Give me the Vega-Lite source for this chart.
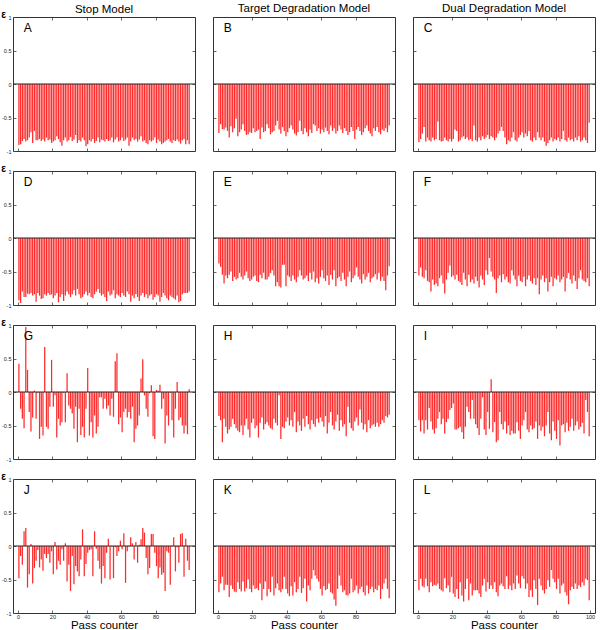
{
"$schema": "https://vega.github.io/schema/vega-lite/v6.json",
"background": "white",
"padding": {"left": 0, "top": 2, "right": 0, "bottom": 0},
"datasets": {
"A": [{"x":0,"v":-0.91},{"x":1,"v":-0.9},{"x":2,"v":-0.85},{"x":3,"v":-0.82},{"x":4,"v":-0.86},{"x":5,"v":-0.84},{"x":6,"v":-0.8},{"x":7,"v":-0.72},{"x":8,"v":-0.88},{"x":9,"v":-0.7},
{"x":10,"v":-0.84},{"x":11,"v":-0.84},{"x":12,"v":-0.82},{"x":13,"v":-0.85},{"x":14,"v":-0.83},{"x":15,"v":-0.86},{"x":16,"v":-0.8},{"x":17,"v":-0.84},{"x":18,"v":-0.83},{"x":19,"v":-0.88},
{"x":20,"v":-0.86},{"x":21,"v":-0.84},{"x":22,"v":-0.78},{"x":23,"v":-0.82},{"x":24,"v":-0.87},{"x":25,"v":-0.92},{"x":26,"v":-0.84},{"x":27,"v":-0.8},{"x":28,"v":-0.86},{"x":29,"v":-0.84},
{"x":30,"v":-0.79},{"x":31,"v":-0.85},{"x":32,"v":-0.83},{"x":33,"v":-0.76},{"x":34,"v":-0.88},{"x":35,"v":-0.84},{"x":36,"v":-0.86},{"x":37,"v":-0.8},{"x":38,"v":-0.84},{"x":39,"v":-0.93},
{"x":40,"v":-0.9},{"x":41,"v":-0.84},{"x":42,"v":-0.86},{"x":43,"v":-0.82},{"x":44,"v":-0.88},{"x":45,"v":-0.85},{"x":46,"v":-0.8},{"x":47,"v":-0.87},{"x":48,"v":-0.83},{"x":49,"v":-0.84},
{"x":50,"v":-0.86},{"x":51,"v":-0.82},{"x":52,"v":-0.85},{"x":53,"v":-0.84},{"x":54,"v":-0.8},{"x":55,"v":-0.87},{"x":56,"v":-0.83},{"x":57,"v":-0.8},{"x":58,"v":-0.86},{"x":59,"v":-0.84},
{"x":60,"v":-0.8},{"x":61,"v":-0.85},{"x":62,"v":-0.83},{"x":63,"v":-0.8},{"x":64,"v":-0.92},{"x":65,"v":-0.86},{"x":66,"v":-0.8},{"x":67,"v":-0.84},{"x":68,"v":-0.82},{"x":69,"v":-0.86},
{"x":70,"v":-0.83},{"x":71,"v":-0.78},{"x":72,"v":-0.86},{"x":73,"v":-0.84},{"x":74,"v":-0.88},{"x":75,"v":-0.9},{"x":76,"v":-0.84},{"x":77,"v":-0.86},{"x":78,"v":-0.84},{"x":79,"v":-0.8},
{"x":80,"v":-0.88},{"x":81,"v":-0.83},{"x":82,"v":-0.86},{"x":83,"v":-0.9},{"x":84,"v":-0.88},{"x":85,"v":-0.86},{"x":86,"v":-0.84},{"x":87,"v":-0.82},{"x":88,"v":-0.86},{"x":89,"v":-0.88},
{"x":90,"v":-0.84},{"x":91,"v":-0.85},{"x":92,"v":-0.83},{"x":93,"v":-0.86},{"x":94,"v":-0.89},{"x":95,"v":-0.84},{"x":96,"v":-0.82},{"x":97,"v":-0.9},{"x":98,"v":-0.84},{"x":99,"v":-0.9}],
"B": [{"x":0,"v":-0.73},{"x":1,"v":-0.6},{"x":2,"v":-0.67},{"x":3,"v":-0.68},{"x":4,"v":-0.65},{"x":5,"v":-0.7},{"x":6,"v":-0.8},{"x":7,"v":-0.63},{"x":8,"v":-0.72},{"x":9,"v":-0.66},
{"x":10,"v":-0.52},{"x":11,"v":-0.78},{"x":12,"v":-0.72},{"x":13,"v":-0.68},{"x":14,"v":-0.6},{"x":15,"v":-0.7},{"x":16,"v":-0.76},{"x":17,"v":-0.75},{"x":18,"v":-0.72},{"x":19,"v":-0.73},
{"x":20,"v":-0.66},{"x":21,"v":-0.72},{"x":22,"v":-0.7},{"x":23,"v":-0.68},{"x":24,"v":-0.82},{"x":25,"v":-0.65},{"x":26,"v":-0.72},{"x":27,"v":-0.7},{"x":28,"v":-0.6},{"x":29,"v":-0.66},
{"x":30,"v":-0.75},{"x":31,"v":-0.72},{"x":32,"v":-0.7},{"x":33,"v":-0.62},{"x":34,"v":-0.55},{"x":35,"v":-0.68},{"x":36,"v":-0.74},{"x":37,"v":-0.64},{"x":38,"v":-0.7},{"x":39,"v":-0.78},
{"x":40,"v":-0.72},{"x":41,"v":-0.66},{"x":42,"v":-0.62},{"x":43,"v":-0.68},{"x":44,"v":-0.74},{"x":45,"v":-0.77},{"x":46,"v":-0.72},{"x":47,"v":-0.55},{"x":48,"v":-0.7},{"x":49,"v":-0.75},
{"x":50,"v":-0.66},{"x":51,"v":-0.72},{"x":52,"v":-0.78},{"x":53,"v":-0.68},{"x":54,"v":-0.73},{"x":55,"v":-0.6},{"x":56,"v":-0.62},{"x":57,"v":-0.7},{"x":58,"v":-0.66},{"x":59,"v":-0.74},
{"x":60,"v":-0.68},{"x":61,"v":-0.72},{"x":62,"v":-0.65},{"x":63,"v":-0.7},{"x":64,"v":-0.75},{"x":65,"v":-0.62},{"x":66,"v":-0.7},{"x":67,"v":-0.66},{"x":68,"v":-0.74},{"x":69,"v":-0.7},
{"x":70,"v":-0.62},{"x":71,"v":-0.68},{"x":72,"v":-0.73},{"x":73,"v":-0.66},{"x":74,"v":-0.7},{"x":75,"v":-0.76},{"x":76,"v":-0.72},{"x":77,"v":-0.64},{"x":78,"v":-0.7},{"x":79,"v":-0.82},
{"x":80,"v":-0.68},{"x":81,"v":-0.64},{"x":82,"v":-0.7},{"x":83,"v":-0.76},{"x":84,"v":-0.72},{"x":85,"v":-0.66},{"x":86,"v":-0.62},{"x":87,"v":-0.7},{"x":88,"v":-0.74},{"x":89,"v":-0.78},
{"x":90,"v":-0.66},{"x":91,"v":-0.7},{"x":92,"v":-0.64},{"x":93,"v":-0.72},{"x":94,"v":-0.75},{"x":95,"v":-0.68},{"x":96,"v":-0.7},{"x":97,"v":-0.66},{"x":98,"v":-0.72},{"x":99,"v":-0.62}],
"C": [{"x":0,"v":-0.87},{"x":1,"v":-0.82},{"x":2,"v":-0.74},{"x":3,"v":-0.64},{"x":4,"v":-0.86},{"x":5,"v":-0.8},{"x":6,"v":-0.84},{"x":7,"v":-0.86},{"x":8,"v":-0.8},{"x":9,"v":-0.84},
{"x":10,"v":-0.82},{"x":11,"v":-0.56},{"x":12,"v":-0.84},{"x":13,"v":-0.86},{"x":14,"v":-0.85},{"x":15,"v":-0.8},{"x":16,"v":-0.84},{"x":17,"v":-0.86},{"x":18,"v":-0.82},{"x":19,"v":-0.86},
{"x":20,"v":-0.82},{"x":21,"v":-0.68},{"x":22,"v":-0.7},{"x":23,"v":-0.86},{"x":24,"v":-0.84},{"x":25,"v":-0.8},{"x":26,"v":-0.78},{"x":27,"v":-0.82},{"x":28,"v":-0.8},{"x":29,"v":-0.84},
{"x":30,"v":-0.82},{"x":31,"v":-0.85},{"x":32,"v":-0.62},{"x":33,"v":-0.84},{"x":34,"v":-0.86},{"x":35,"v":-0.8},{"x":36,"v":-0.84},{"x":37,"v":-0.78},{"x":38,"v":-0.82},{"x":39,"v":-0.8},
{"x":40,"v":-0.76},{"x":41,"v":-0.82},{"x":42,"v":-0.78},{"x":43,"v":-0.8},{"x":44,"v":-0.84},{"x":45,"v":-0.8},{"x":46,"v":-0.74},{"x":47,"v":-0.7},{"x":48,"v":-0.64},{"x":49,"v":-0.7},
{"x":50,"v":-0.8},{"x":51,"v":-0.9},{"x":52,"v":-0.84},{"x":53,"v":-0.86},{"x":54,"v":-0.8},{"x":55,"v":-0.72},{"x":56,"v":-0.84},{"x":57,"v":-0.86},{"x":58,"v":-0.8},{"x":59,"v":-0.76},
{"x":60,"v":-0.72},{"x":61,"v":-0.8},{"x":62,"v":-0.74},{"x":63,"v":-0.78},{"x":64,"v":-0.7},{"x":65,"v":-0.84},{"x":66,"v":-0.86},{"x":67,"v":-0.8},{"x":68,"v":-0.84},{"x":69,"v":-0.72},
{"x":70,"v":-0.8},{"x":71,"v":-0.84},{"x":72,"v":-0.8},{"x":73,"v":-0.86},{"x":74,"v":-0.92},{"x":75,"v":-0.88},{"x":76,"v":-0.84},{"x":77,"v":-0.8},{"x":78,"v":-0.86},{"x":79,"v":-0.82},
{"x":80,"v":-0.84},{"x":81,"v":-0.8},{"x":82,"v":-0.86},{"x":83,"v":-0.82},{"x":84,"v":-0.7},{"x":85,"v":-0.84},{"x":86,"v":-0.86},{"x":87,"v":-0.8},{"x":88,"v":-0.84},{"x":89,"v":-0.82},
{"x":90,"v":-0.86},{"x":91,"v":-0.8},{"x":92,"v":-0.84},{"x":93,"v":-0.78},{"x":94,"v":-0.86},{"x":95,"v":-0.84},{"x":96,"v":-0.8},{"x":97,"v":-0.84},{"x":98,"v":-0.88},{"x":99,"v":-0.58}],
"D": [{"x":0,"v":-0.93},{"x":1,"v":-0.97},{"x":2,"v":-0.8},{"x":3,"v":-0.88},{"x":4,"v":-0.88},{"x":5,"v":-0.83},{"x":6,"v":-0.84},{"x":7,"v":-0.82},{"x":8,"v":-0.86},{"x":9,"v":-0.84},
{"x":10,"v":-0.95},{"x":11,"v":-0.82},{"x":12,"v":-0.86},{"x":13,"v":-0.91},{"x":14,"v":-0.9},{"x":15,"v":-0.84},{"x":16,"v":-0.86},{"x":17,"v":-0.82},{"x":18,"v":-0.85},{"x":19,"v":-0.84},
{"x":20,"v":-0.9},{"x":21,"v":-0.86},{"x":22,"v":-0.82},{"x":23,"v":-0.96},{"x":24,"v":-0.88},{"x":25,"v":-0.84},{"x":26,"v":-0.94},{"x":27,"v":-0.86},{"x":28,"v":-0.8},{"x":29,"v":-0.84},
{"x":30,"v":-0.88},{"x":31,"v":-0.84},{"x":32,"v":-0.78},{"x":33,"v":-0.86},{"x":34,"v":-0.76},{"x":35,"v":-0.84},{"x":36,"v":-0.9},{"x":37,"v":-0.88},{"x":38,"v":-0.84},{"x":39,"v":-0.8},
{"x":40,"v":-0.86},{"x":41,"v":-0.82},{"x":42,"v":-0.88},{"x":43,"v":-0.9},{"x":44,"v":-0.84},{"x":45,"v":-0.8},{"x":46,"v":-0.76},{"x":47,"v":-0.82},{"x":48,"v":-0.86},{"x":49,"v":-0.84},
{"x":50,"v":-0.88},{"x":51,"v":-0.94},{"x":52,"v":-0.8},{"x":53,"v":-0.86},{"x":54,"v":-0.84},{"x":55,"v":-0.78},{"x":56,"v":-0.9},{"x":57,"v":-0.84},{"x":58,"v":-0.86},{"x":59,"v":-0.88},
{"x":60,"v":-0.82},{"x":61,"v":-0.86},{"x":62,"v":-0.88},{"x":63,"v":-0.8},{"x":64,"v":-0.84},{"x":65,"v":-0.95},{"x":66,"v":-0.86},{"x":67,"v":-0.9},{"x":68,"v":-0.84},{"x":69,"v":-0.88},
{"x":70,"v":-0.94},{"x":71,"v":-0.86},{"x":72,"v":-0.82},{"x":73,"v":-0.88},{"x":74,"v":-0.84},{"x":75,"v":-0.9},{"x":76,"v":-0.86},{"x":77,"v":-0.84},{"x":78,"v":-0.92},{"x":79,"v":-0.88},
{"x":80,"v":-0.84},{"x":81,"v":-0.86},{"x":82,"v":-0.95},{"x":83,"v":-0.88},{"x":84,"v":-0.82},{"x":85,"v":-0.86},{"x":86,"v":-0.9},{"x":87,"v":-0.93},{"x":88,"v":-0.86},{"x":89,"v":-0.88},
{"x":90,"v":-0.9},{"x":91,"v":-0.92},{"x":92,"v":-0.86},{"x":93,"v":-0.96},{"x":94,"v":-0.94},{"x":95,"v":-0.84},{"x":96,"v":-0.82},{"x":97,"v":-0.82},{"x":98,"v":-0.82},{"x":99,"v":-0.8}],
"E": [{"x":0,"v":-0.38},{"x":1,"v":-0.43},{"x":2,"v":-0.55},{"x":3,"v":-0.68},{"x":4,"v":-0.56},{"x":5,"v":-0.6},{"x":6,"v":-0.55},{"x":7,"v":-0.5},{"x":8,"v":-0.64},{"x":9,"v":-0.58},
{"x":10,"v":-0.62},{"x":11,"v":-0.6},{"x":12,"v":-0.52},{"x":13,"v":-0.58},{"x":14,"v":-0.62},{"x":15,"v":-0.56},{"x":16,"v":-0.5},{"x":17,"v":-0.6},{"x":18,"v":-0.64},{"x":19,"v":-0.62},
{"x":20,"v":-0.58},{"x":21,"v":-0.56},{"x":22,"v":-0.64},{"x":23,"v":-0.66},{"x":24,"v":-0.55},{"x":25,"v":-0.6},{"x":26,"v":-0.52},{"x":27,"v":-0.62},{"x":28,"v":-0.62},{"x":29,"v":-0.58},
{"x":30,"v":-0.52},{"x":31,"v":-0.48},{"x":32,"v":-0.56},{"x":33,"v":-0.72},{"x":34,"v":-0.66},{"x":35,"v":-0.72},{"x":36,"v":-0.74},{"x":37,"v":-0.4},{"x":38,"v":-0.4},{"x":39,"v":-0.72},
{"x":40,"v":-0.56},{"x":41,"v":-0.58},{"x":42,"v":-0.64},{"x":43,"v":-0.56},{"x":44,"v":-0.62},{"x":45,"v":-0.66},{"x":46,"v":-0.58},{"x":47,"v":-0.48},{"x":48,"v":-0.56},{"x":49,"v":-0.62},
{"x":50,"v":-0.6},{"x":51,"v":-0.56},{"x":52,"v":-0.64},{"x":53,"v":-0.52},{"x":54,"v":-0.62},{"x":55,"v":-0.5},{"x":56,"v":-0.66},{"x":57,"v":-0.6},{"x":58,"v":-0.68},{"x":59,"v":-0.58},
{"x":60,"v":-0.48},{"x":61,"v":-0.6},{"x":62,"v":-0.64},{"x":63,"v":-0.56},{"x":64,"v":-0.7},{"x":65,"v":-0.55},{"x":66,"v":-0.62},{"x":67,"v":-0.48},{"x":68,"v":-0.72},{"x":69,"v":-0.6},
{"x":70,"v":-0.58},{"x":71,"v":-0.64},{"x":72,"v":-0.52},{"x":73,"v":-0.62},{"x":74,"v":-0.72},{"x":75,"v":-0.58},{"x":76,"v":-0.5},{"x":77,"v":-0.66},{"x":78,"v":-0.6},{"x":79,"v":-0.56},
{"x":80,"v":-0.44},{"x":81,"v":-0.58},{"x":82,"v":-0.62},{"x":83,"v":-0.68},{"x":84,"v":-0.54},{"x":85,"v":-0.62},{"x":86,"v":-0.58},{"x":87,"v":-0.52},{"x":88,"v":-0.66},{"x":89,"v":-0.6},
{"x":90,"v":-0.58},{"x":91,"v":-0.54},{"x":92,"v":-0.62},{"x":93,"v":-0.52},{"x":94,"v":-0.64},{"x":95,"v":-0.58},{"x":96,"v":-0.64},{"x":97,"v":-0.78},{"x":98,"v":-0.56},{"x":99,"v":-0.42}],
"F": [{"x":0,"v":-0.56},{"x":1,"v":-0.44},{"x":2,"v":-0.58},{"x":3,"v":-0.6},{"x":4,"v":-0.48},{"x":5,"v":-0.64},{"x":6,"v":-0.66},{"x":7,"v":-0.8},{"x":8,"v":-0.62},{"x":9,"v":-0.7},
{"x":10,"v":-0.68},{"x":11,"v":-0.72},{"x":12,"v":-0.6},{"x":13,"v":-0.56},{"x":14,"v":-0.68},{"x":15,"v":-0.83},{"x":16,"v":-0.62},{"x":17,"v":-0.52},{"x":18,"v":-0.41},{"x":19,"v":-0.58},
{"x":20,"v":-0.56},{"x":21,"v":-0.62},{"x":22,"v":-0.55},{"x":23,"v":-0.64},{"x":24,"v":-0.66},{"x":25,"v":-0.7},{"x":26,"v":-0.52},{"x":27,"v":-0.62},{"x":28,"v":-0.72},{"x":29,"v":-0.55},
{"x":30,"v":-0.66},{"x":31,"v":-0.62},{"x":32,"v":-0.68},{"x":33,"v":-0.58},{"x":34,"v":-0.64},{"x":35,"v":-0.74},{"x":36,"v":-0.56},{"x":37,"v":-0.62},{"x":38,"v":-0.7},{"x":39,"v":-0.48},
{"x":40,"v":-0.55},{"x":41,"v":-0.3},{"x":42,"v":-0.5},{"x":43,"v":-0.58},{"x":44,"v":-0.62},{"x":45,"v":-0.82},{"x":46,"v":-0.6},{"x":47,"v":-0.56},{"x":48,"v":-0.66},{"x":49,"v":-0.54},
{"x":50,"v":-0.62},{"x":51,"v":-0.58},{"x":52,"v":-0.66},{"x":53,"v":-0.68},{"x":54,"v":-0.48},{"x":55,"v":-0.56},{"x":56,"v":-0.62},{"x":57,"v":-0.72},{"x":58,"v":-0.56},{"x":59,"v":-0.64},
{"x":60,"v":-0.66},{"x":61,"v":-0.58},{"x":62,"v":-0.72},{"x":63,"v":-0.62},{"x":64,"v":-0.56},{"x":65,"v":-0.64},{"x":66,"v":-0.68},{"x":67,"v":-0.6},{"x":68,"v":-0.7},{"x":69,"v":-0.6},
{"x":70,"v":-0.84},{"x":71,"v":-0.62},{"x":72,"v":-0.56},{"x":73,"v":-0.66},{"x":74,"v":-0.6},{"x":75,"v":-0.8},{"x":76,"v":-0.66},{"x":77,"v":-0.58},{"x":78,"v":-0.72},{"x":79,"v":-0.6},
{"x":80,"v":-0.62},{"x":81,"v":-0.56},{"x":82,"v":-0.66},{"x":83,"v":-0.62},{"x":84,"v":-0.58},{"x":85,"v":-0.8},{"x":86,"v":-0.6},{"x":87,"v":-0.52},{"x":88,"v":-0.62},{"x":89,"v":-0.68},
{"x":90,"v":-0.56},{"x":91,"v":-0.64},{"x":92,"v":-0.76},{"x":93,"v":-0.6},{"x":94,"v":-0.48},{"x":95,"v":-0.62},{"x":96,"v":-0.64},{"x":97,"v":-0.66},{"x":98,"v":-0.6},{"x":99,"v":-0.72}],
"G": [{"x":0,"v":0.42},{"x":1,"v":-0.25},{"x":2,"v":-0.4},{"x":3,"v":-0.54},{"x":4,"v":0.97},{"x":5,"v":0.33},{"x":6,"v":-0.3},{"x":7,"v":-0.59},{"x":8,"v":-0.38},{"x":9,"v":0.02},
{"x":10,"v":-0.4},{"x":11,"v":-0.01},{"x":12,"v":-0.7},{"x":13,"v":-0.52},{"x":14,"v":-0.65},{"x":15,"v":0.67},{"x":16,"v":-0.52},{"x":17,"v":-0.55},{"x":18,"v":-0.22},{"x":19,"v":0.48},
{"x":20,"v":-0.22},{"x":21,"v":-0.05},{"x":22,"v":-0.68},{"x":23,"v":-0.4},{"x":24,"v":-0.5},{"x":25,"v":-0.45},{"x":26,"v":-0.01},{"x":27,"v":-0.45},{"x":28,"v":0.28},{"x":29,"v":-0.2},
{"x":30,"v":-0.25},{"x":31,"v":-0.32},{"x":32,"v":-0.55},{"x":33,"v":-0.22},{"x":34,"v":-0.75},{"x":35,"v":-0.25},{"x":36,"v":-0.64},{"x":37,"v":-0.52},{"x":38,"v":-0.68},{"x":39,"v":-0.25},
{"x":40,"v":0.36},{"x":41,"v":-0.65},{"x":42,"v":-0.45},{"x":43,"v":-0.68},{"x":44,"v":-0.35},{"x":45,"v":-0.62},{"x":46,"v":-0.52},{"x":47,"v":-0.08},{"x":48,"v":-0.08},{"x":49,"v":-0.25},
{"x":50,"v":-0.1},{"x":51,"v":-0.25},{"x":52,"v":-0.2},{"x":53,"v":-0.35},{"x":54,"v":-0.1},{"x":55,"v":-0.37},{"x":56,"v":0.46},{"x":57,"v":0.58},{"x":58,"v":-0.48},{"x":59,"v":-0.38},
{"x":60,"v":-0.6},{"x":61,"v":-0.3},{"x":62,"v":-0.25},{"x":63,"v":-0.38},{"x":64,"v":-0.3},{"x":65,"v":-0.4},{"x":66,"v":-0.22},{"x":67,"v":-0.75},{"x":68,"v":-0.55},{"x":69,"v":-0.5},
{"x":70,"v":-0.35},{"x":71,"v":0.2},{"x":72,"v":0.49},{"x":73,"v":-0.05},{"x":74,"v":-0.25},{"x":75,"v":-0.37},{"x":76,"v":-0.02},{"x":77,"v":0.1},{"x":78,"v":-0.66},{"x":79,"v":-0.7},
{"x":80,"v":0.03},{"x":81,"v":0.02},{"x":82,"v":0.11},{"x":83,"v":-0.25},{"x":84,"v":-0.1},{"x":85,"v":-0.77},{"x":86,"v":-0.35},{"x":87,"v":-0.5},{"x":88,"v":-0.01},{"x":89,"v":-0.42},
{"x":90,"v":-0.68},{"x":91,"v":-0.25},{"x":92,"v":0.15},{"x":93,"v":-0.42},{"x":94,"v":-0.38},{"x":95,"v":-0.5},{"x":96,"v":-0.62},{"x":97,"v":-0.5},{"x":98,"v":-0.63},{"x":99,"v":0.04}],
"H": [{"x":0,"v":-0.36},{"x":1,"v":-0.42},{"x":2,"v":-0.75},{"x":3,"v":-0.4},{"x":4,"v":-0.52},{"x":5,"v":-0.62},{"x":6,"v":-0.56},{"x":7,"v":-0.52},{"x":8,"v":-0.4},{"x":9,"v":-0.48},
{"x":10,"v":-0.54},{"x":11,"v":-0.58},{"x":12,"v":-0.6},{"x":13,"v":-0.5},{"x":14,"v":-0.64},{"x":15,"v":-0.5},{"x":16,"v":-0.4},{"x":17,"v":-0.56},{"x":18,"v":-0.68},{"x":19,"v":-0.46},
{"x":20,"v":-0.4},{"x":21,"v":-0.54},{"x":22,"v":-0.5},{"x":23,"v":-0.68},{"x":24,"v":-0.46},{"x":25,"v":-0.38},{"x":26,"v":-0.56},{"x":27,"v":-0.48},{"x":28,"v":-0.45},{"x":29,"v":-0.5},
{"x":30,"v":-0.54},{"x":31,"v":-0.56},{"x":32,"v":-0.4},{"x":33,"v":-0.46},{"x":34,"v":-0.5},{"x":35,"v":-0.05},{"x":36,"v":-0.7},{"x":37,"v":-0.52},{"x":38,"v":-0.54},{"x":39,"v":-0.44},
{"x":40,"v":-0.38},{"x":41,"v":-0.5},{"x":42,"v":-0.42},{"x":43,"v":-0.52},{"x":44,"v":-0.3},{"x":45,"v":-0.6},{"x":46,"v":-0.44},{"x":47,"v":-0.5},{"x":48,"v":-0.58},{"x":49,"v":-0.4},
{"x":50,"v":-0.52},{"x":51,"v":-0.36},{"x":52,"v":-0.48},{"x":53,"v":-0.56},{"x":54,"v":-0.42},{"x":55,"v":-0.48},{"x":56,"v":-0.52},{"x":57,"v":-0.4},{"x":58,"v":-0.46},{"x":59,"v":-0.38},
{"x":60,"v":-0.44},{"x":61,"v":-0.52},{"x":62,"v":-0.36},{"x":63,"v":-0.62},{"x":64,"v":-0.46},{"x":65,"v":-0.3},{"x":66,"v":-0.5},{"x":67,"v":-0.56},{"x":68,"v":-0.44},{"x":69,"v":-0.34},
{"x":70,"v":-0.58},{"x":71,"v":-0.42},{"x":72,"v":-0.52},{"x":73,"v":-0.48},{"x":74,"v":-0.66},{"x":75,"v":-0.22},{"x":76,"v":-0.46},{"x":77,"v":-0.54},{"x":78,"v":-0.58},{"x":79,"v":-0.44},
{"x":80,"v":-0.38},{"x":81,"v":-0.5},{"x":82,"v":-0.26},{"x":83,"v":-0.46},{"x":84,"v":-0.56},{"x":85,"v":-0.48},{"x":86,"v":-0.6},{"x":87,"v":-0.42},{"x":88,"v":-0.54},{"x":89,"v":-0.5},
{"x":90,"v":-0.48},{"x":91,"v":-0.52},{"x":92,"v":-0.46},{"x":93,"v":-0.52},{"x":94,"v":-0.48},{"x":95,"v":-0.42},{"x":96,"v":-0.46},{"x":97,"v":-0.36},{"x":98,"v":-0.38},{"x":99,"v":-0.34}],
"I": [{"x":0,"v":-0.42},{"x":1,"v":-0.59},{"x":2,"v":-0.42},{"x":3,"v":-0.62},{"x":4,"v":-0.42},{"x":5,"v":-0.56},{"x":6,"v":-0.24},{"x":7,"v":-0.44},{"x":8,"v":-0.56},{"x":9,"v":-0.62},
{"x":10,"v":-0.54},{"x":11,"v":-0.4},{"x":12,"v":-0.3},{"x":13,"v":-0.48},{"x":14,"v":-0.4},{"x":15,"v":-0.62},{"x":16,"v":-0.45},{"x":17,"v":-0.4},{"x":18,"v":-0.27},{"x":19,"v":-0.24},
{"x":20,"v":-0.17},{"x":21,"v":-0.56},{"x":22,"v":-0.56},{"x":23,"v":-0.54},{"x":24,"v":-0.52},{"x":25,"v":-0.6},{"x":26,"v":-0.7},{"x":27,"v":-0.52},{"x":28,"v":-0.22},{"x":29,"v":-0.3},
{"x":30,"v":-0.4},{"x":31,"v":-0.12},{"x":32,"v":-0.4},{"x":33,"v":-0.48},{"x":34,"v":-0.54},{"x":35,"v":-0.64},{"x":36,"v":-0.4},{"x":37,"v":-0.08},{"x":38,"v":-0.56},{"x":39,"v":-0.64},
{"x":40,"v":-0.3},{"x":41,"v":-0.55},{"x":42,"v":0.19},{"x":43,"v":-0.6},{"x":44,"v":-0.45},{"x":45,"v":-0.75},{"x":46,"v":-0.72},{"x":47,"v":-0.3},{"x":48,"v":-0.48},{"x":49,"v":-0.56},
{"x":50,"v":-0.44},{"x":51,"v":-0.62},{"x":52,"v":-0.5},{"x":53,"v":-0.64},{"x":54,"v":-0.58},{"x":55,"v":-0.62},{"x":56,"v":-0.62},{"x":57,"v":-0.45},{"x":58,"v":-0.58},{"x":59,"v":-0.7},
{"x":60,"v":-0.5},{"x":61,"v":-0.42},{"x":62,"v":-0.3},{"x":63,"v":-0.56},{"x":64,"v":-0.6},{"x":65,"v":-0.5},{"x":66,"v":-0.56},{"x":67,"v":-0.54},{"x":68,"v":-0.44},{"x":69,"v":-0.7},
{"x":70,"v":-0.5},{"x":71,"v":-0.58},{"x":72,"v":-0.52},{"x":73,"v":-0.66},{"x":74,"v":-0.5},{"x":75,"v":-0.3},{"x":76,"v":-0.62},{"x":77,"v":-0.72},{"x":78,"v":-0.44},{"x":79,"v":-0.58},
{"x":80,"v":-0.7},{"x":81,"v":-0.42},{"x":82,"v":-0.8},{"x":83,"v":-0.5},{"x":84,"v":-0.48},{"x":85,"v":-0.6},{"x":86,"v":-0.46},{"x":87,"v":-0.58},{"x":88,"v":-0.52},{"x":89,"v":-0.4},
{"x":90,"v":-0.58},{"x":91,"v":-0.5},{"x":92,"v":-0.44},{"x":93,"v":-0.56},{"x":94,"v":-0.52},{"x":95,"v":-0.46},{"x":96,"v":-0.62},{"x":97,"v":-0.12},{"x":98,"v":-0.3},{"x":99,"v":-0.66}],
"J": [{"x":0,"v":-0.48},{"x":1,"v":-0.15},{"x":2,"v":-0.28},{"x":3,"v":0.22},{"x":4,"v":0.27},{"x":5,"v":-0.62},{"x":6,"v":-0.42},{"x":7,"v":0.03},{"x":8,"v":-0.56},{"x":9,"v":-0.33},
{"x":10,"v":-0.22},{"x":11,"v":-0.06},{"x":12,"v":-0.32},{"x":13,"v":-0.2},{"x":14,"v":-0.37},{"x":15,"v":-0.12},{"x":16,"v":-0.18},{"x":17,"v":-0.12},{"x":18,"v":-0.25},{"x":19,"v":-0.08},
{"x":20,"v":-0.42},{"x":21,"v":0.06},{"x":22,"v":-0.35},{"x":23,"v":-0.22},{"x":24,"v":-0.28},{"x":25,"v":-0.05},{"x":26,"v":-0.22},{"x":27,"v":0.04},{"x":28,"v":-0.53},{"x":29,"v":-0.28},
{"x":30,"v":-0.67},{"x":31,"v":-0.15},{"x":32,"v":-0.57},{"x":33,"v":-0.3},{"x":34,"v":-0.38},{"x":35,"v":-0.45},{"x":36,"v":-0.2},{"x":37,"v":0.25},{"x":38,"v":-0.45},{"x":39,"v":-0.27},
{"x":40,"v":-0.1},{"x":41,"v":-0.06},{"x":42,"v":-0.05},{"x":43,"v":-0.45},{"x":44,"v":0.22},{"x":45,"v":-0.04},{"x":46,"v":-0.22},{"x":47,"v":-0.34},{"x":48,"v":-0.56},{"x":49,"v":-0.3},
{"x":50,"v":-0.48},{"x":51,"v":-0.1},{"x":52,"v":0.11},{"x":53,"v":-0.5},{"x":54,"v":-0.01},{"x":55,"v":-0.48},{"x":56,"v":-0.02},{"x":57,"v":-0.15},{"x":58,"v":-0.08},{"x":59,"v":0.08},
{"x":60,"v":-0.05},{"x":61,"v":0.19},{"x":62,"v":-0.55},{"x":63,"v":-0.08},{"x":64,"v":-0.01},{"x":65,"v":0.13},{"x":66,"v":0.04},{"x":67,"v":-0.2},{"x":68,"v":0.06},{"x":69,"v":-0.25},
{"x":70,"v":0.02},{"x":71,"v":0.1},{"x":72,"v":0.27},{"x":73,"v":0.2},{"x":74,"v":-0.18},{"x":75,"v":-0.42},{"x":76,"v":-0.33},{"x":77,"v":0.18},{"x":78,"v":0.18},{"x":79,"v":-0.1},
{"x":80,"v":-0.3},{"x":81,"v":-0.48},{"x":82,"v":-0.32},{"x":83,"v":-0.43},{"x":84,"v":-0.4},{"x":85,"v":-0.67},{"x":86,"v":-0.08},{"x":87,"v":-0.1},{"x":88,"v":-0.58},{"x":89,"v":-0.01},
{"x":90,"v":0.13},{"x":91,"v":-0.38},{"x":92,"v":-0.02},{"x":93,"v":-0.25},{"x":94,"v":0.18},{"x":95,"v":0.19},{"x":96,"v":-0.46},{"x":97,"v":0.11},{"x":98,"v":-0.22},{"x":99,"v":-0.36}],
"K": [{"x":0,"v":-0.69},{"x":1,"v":-0.56},{"x":2,"v":-0.46},{"x":3,"v":-0.66},{"x":4,"v":-0.58},{"x":5,"v":-0.58},{"x":6,"v":-0.76},{"x":7,"v":-0.59},{"x":8,"v":-0.64},{"x":9,"v":-0.68},
{"x":10,"v":-0.69},{"x":11,"v":-0.54},{"x":12,"v":-0.64},{"x":13,"v":-0.68},{"x":14,"v":-0.53},{"x":15,"v":-0.68},{"x":16,"v":-0.63},{"x":17,"v":-0.5},{"x":18,"v":-0.64},{"x":19,"v":-0.69},
{"x":20,"v":-0.59},{"x":21,"v":-0.64},{"x":22,"v":-0.63},{"x":23,"v":-0.66},{"x":24,"v":-0.56},{"x":25,"v":-0.81},{"x":26,"v":-0.64},{"x":27,"v":-0.53},{"x":28,"v":-0.75},{"x":29,"v":-0.64},
{"x":30,"v":-0.69},{"x":31,"v":-0.46},{"x":32,"v":-0.74},{"x":33,"v":-0.63},{"x":34,"v":-0.56},{"x":35,"v":-0.66},{"x":36,"v":-0.69},{"x":37,"v":-0.64},{"x":38,"v":-0.46},{"x":39,"v":-0.64},
{"x":40,"v":-0.71},{"x":41,"v":-0.75},{"x":42,"v":-0.6},{"x":43,"v":-0.74},{"x":44,"v":-0.54},{"x":45,"v":-0.69},{"x":46,"v":-0.64},{"x":47,"v":-0.46},{"x":48,"v":-0.7},{"x":49,"v":-0.63},
{"x":50,"v":-0.49},{"x":51,"v":-0.83},{"x":52,"v":-0.59},{"x":53,"v":-0.66},{"x":54,"v":-0.49},{"x":55,"v":-0.36},{"x":56,"v":-0.44},{"x":57,"v":-0.49},{"x":58,"v":-0.53},{"x":59,"v":-0.64},
{"x":60,"v":-0.74},{"x":61,"v":-0.6},{"x":62,"v":-0.66},{"x":63,"v":-0.64},{"x":64,"v":-0.56},{"x":65,"v":-0.69},{"x":66,"v":-0.71},{"x":67,"v":-0.8},{"x":68,"v":-0.89},{"x":69,"v":-0.64},
{"x":70,"v":-0.44},{"x":71,"v":-0.59},{"x":72,"v":-0.69},{"x":73,"v":-0.66},{"x":74,"v":-0.73},{"x":75,"v":-0.74},{"x":76,"v":-0.71},{"x":77,"v":-0.49},{"x":78,"v":-0.69},{"x":79,"v":-0.66},
{"x":80,"v":-0.59},{"x":81,"v":-0.71},{"x":82,"v":-0.64},{"x":83,"v":-0.61},{"x":84,"v":-0.69},{"x":85,"v":-0.74},{"x":86,"v":-0.59},{"x":87,"v":-0.71},{"x":88,"v":-0.64},{"x":89,"v":-0.61},
{"x":90,"v":-0.69},{"x":91,"v":-0.64},{"x":92,"v":-0.66},{"x":93,"v":-0.59},{"x":94,"v":-0.79},{"x":95,"v":-0.64},{"x":96,"v":-0.56},{"x":97,"v":-0.49},{"x":98,"v":-0.64},{"x":99,"v":-0.78}],
"L": [{"x":0,"v":-0.66},{"x":1,"v":-0.49},{"x":2,"v":-0.6},{"x":3,"v":-0.62},{"x":4,"v":-0.49},{"x":5,"v":-0.6},{"x":6,"v":-0.69},{"x":7,"v":-0.54},{"x":8,"v":-0.6},{"x":9,"v":-0.58},
{"x":10,"v":-0.59},{"x":11,"v":-0.56},{"x":12,"v":-0.64},{"x":13,"v":-0.66},{"x":14,"v":-0.68},{"x":15,"v":-0.48},{"x":16,"v":-0.63},{"x":17,"v":-0.59},{"x":18,"v":-0.69},{"x":19,"v":-0.46},
{"x":20,"v":-0.71},{"x":21,"v":-0.76},{"x":22,"v":-0.64},{"x":23,"v":-0.79},{"x":24,"v":-0.54},{"x":25,"v":-0.74},{"x":26,"v":-0.83},{"x":27,"v":-0.64},{"x":28,"v":-0.49},{"x":29,"v":-0.81},
{"x":30,"v":-0.56},{"x":31,"v":-0.74},{"x":32,"v":-0.66},{"x":33,"v":-0.66},{"x":34,"v":-0.66},{"x":35,"v":-0.71},{"x":36,"v":-0.76},{"x":37,"v":-0.59},{"x":38,"v":-0.49},{"x":39,"v":-0.68},
{"x":40,"v":-0.54},{"x":41,"v":-0.64},{"x":42,"v":-0.59},{"x":43,"v":-0.64},{"x":44,"v":-0.54},{"x":45,"v":-0.69},{"x":46,"v":-0.75},{"x":47,"v":-0.59},{"x":48,"v":-0.56},{"x":49,"v":-0.6},
{"x":50,"v":-0.64},{"x":51,"v":-0.45},{"x":52,"v":-0.64},{"x":53,"v":-0.59},{"x":54,"v":-0.66},{"x":55,"v":-0.56},{"x":56,"v":-0.64},{"x":57,"v":-0.44},{"x":58,"v":-0.56},{"x":59,"v":-0.63},
{"x":60,"v":-0.45},{"x":61,"v":-0.49},{"x":62,"v":-0.64},{"x":63,"v":-0.56},{"x":64,"v":-0.76},{"x":65,"v":-0.66},{"x":66,"v":-0.76},{"x":67,"v":-0.51},{"x":68,"v":-0.64},{"x":69,"v":-0.88},
{"x":70,"v":-0.49},{"x":71,"v":-0.59},{"x":72,"v":-0.66},{"x":73,"v":-0.71},{"x":74,"v":-0.64},{"x":75,"v":-0.51},{"x":76,"v":-0.61},{"x":77,"v":-0.36},{"x":78,"v":-0.49},{"x":79,"v":-0.54},
{"x":80,"v":-0.64},{"x":81,"v":-0.49},{"x":82,"v":-0.71},{"x":83,"v":-0.59},{"x":84,"v":-0.56},{"x":85,"v":-0.69},{"x":86,"v":-0.74},{"x":87,"v":-0.87},{"x":88,"v":-0.66},{"x":89,"v":-0.61},
{"x":90,"v":-0.64},{"x":91,"v":-0.56},{"x":92,"v":-0.64},{"x":93,"v":-0.59},{"x":94,"v":-0.61},{"x":95,"v":-0.54},{"x":96,"v":-0.59},{"x":97,"v":-0.49},{"x":98,"v":-0.51},{"x":99,"v":-0.81}]
},
"spacing": 7,
"vconcat": [
{"hconcat": [
{"width":182,"height":134,"title":{"text":"Stop Model","anchor":"middle","frame":"group","offset":-6},"data":{"name":"A"},"layer":[
{"mark":{"type":"bar","color":"#ff2a2a","width":1.25,"xOffset":0.91},"encoding":{"x":{"field":"x","type":"quantitative","scale":{"domain":[0,100],"nice":false,"zero":false},"axis":{"orient":"bottom","values":[0,20,40,60,80],"labels":false,"title":null}},"y":{"field":"v","type":"quantitative","scale":{"domain":[-1,1],"nice":false},"axis":{"values":[-1,-0.5,0,0.5,1],"labelExpr":"''+datum.value","title":"ε","titleAngle":0,"titleX":-10,"titleY":-3,"titleAlign":"center","titleBaseline":"middle","titleFontSize":10,"titleFontWeight":"bold"}}}},
{"data":{"values":[{}]},"mark":{"type":"rule","color":"#222","strokeWidth":1},"encoding":{"y":{"datum":0,"type":"quantitative","axis":{"orient":"right","values":[-0.5,0,0.5],"labels":false,"title":null}}}},
{"data":{"values":[{}]},"mark":{"type":"text","align":"left","baseline":"middle","fontSize":12,"color":"#000"},"encoding":{"x":{"datum":3.3,"type":"quantitative","axis":{"orient":"top","values":[20,40,60,80],"labels":false,"title":null}},"y":{"datum":0.84,"type":"quantitative","axis":null},"text":{"value":"A"}}}
],"resolve":{"axis":{"x":"independent","y":"independent"}}},
{"width":182,"height":134,"title":{"text":"Target Degradation Model","anchor":"middle","frame":"group","offset":2},"data":{"name":"B"},"layer":[
{"mark":{"type":"bar","color":"#ff2a2a","width":1.25,"xOffset":0.91},"encoding":{"x":{"field":"x","type":"quantitative","scale":{"domain":[0,100],"nice":false,"zero":false},"axis":{"orient":"bottom","values":[0,20,40,60,80],"labels":false,"title":null}},"y":{"field":"v","type":"quantitative","scale":{"domain":[-1,1],"nice":false},"axis":{"values":[-1,-0.5,0,0.5,1],"labels":false,"title":null}}}},
{"data":{"values":[{}]},"mark":{"type":"rule","color":"#222","strokeWidth":1},"encoding":{"y":{"datum":0,"type":"quantitative","axis":{"orient":"right","values":[-0.5,0,0.5],"labels":false,"title":null}}}},
{"data":{"values":[{}]},"mark":{"type":"text","align":"left","baseline":"middle","fontSize":12,"color":"#000"},"encoding":{"x":{"datum":3.3,"type":"quantitative","axis":{"orient":"top","values":[20,40,60,80],"labels":false,"title":null}},"y":{"datum":0.84,"type":"quantitative","axis":null},"text":{"value":"B"}}}
],"resolve":{"axis":{"x":"independent","y":"independent"}}},
{"width":182,"height":134,"title":{"text":"Dual Degradation Model","anchor":"middle","frame":"group","offset":2},"data":{"name":"C"},"layer":[
{"mark":{"type":"bar","color":"#ff2a2a","width":1.25,"xOffset":0.91},"encoding":{"x":{"field":"x","type":"quantitative","scale":{"domain":[0,100],"nice":false,"zero":false},"axis":{"orient":"bottom","values":[0,20,40,60,80],"labels":false,"title":null}},"y":{"field":"v","type":"quantitative","scale":{"domain":[-1,1],"nice":false},"axis":{"values":[-1,-0.5,0,0.5,1],"labels":false,"title":null}}}},
{"data":{"values":[{}]},"mark":{"type":"rule","color":"#222","strokeWidth":1},"encoding":{"y":{"datum":0,"type":"quantitative","axis":{"orient":"right","values":[-0.5,0,0.5],"labels":false,"title":null}}}},
{"data":{"values":[{}]},"mark":{"type":"text","align":"left","baseline":"middle","fontSize":12,"color":"#000"},"encoding":{"x":{"datum":3.3,"type":"quantitative","axis":{"orient":"top","values":[20,40,60,80],"labels":false,"title":null}},"y":{"datum":0.84,"type":"quantitative","axis":null},"text":{"value":"C"}}}
],"resolve":{"axis":{"x":"independent","y":"independent"}}}
], "spacing": 18, "bounds": "flush"},
{"hconcat": [
{"width":182,"height":134,"data":{"name":"D"},"layer":[
{"mark":{"type":"bar","color":"#ff2a2a","width":1.25,"xOffset":0.91},"encoding":{"x":{"field":"x","type":"quantitative","scale":{"domain":[0,100],"nice":false,"zero":false},"axis":{"orient":"bottom","values":[0,20,40,60,80],"labels":false,"title":null}},"y":{"field":"v","type":"quantitative","scale":{"domain":[-1,1],"nice":false},"axis":{"values":[-1,-0.5,0,0.5,1],"labelExpr":"''+datum.value","title":"ε","titleAngle":0,"titleX":-10,"titleY":-3,"titleAlign":"center","titleBaseline":"middle","titleFontSize":10,"titleFontWeight":"bold"}}}},
{"data":{"values":[{}]},"mark":{"type":"rule","color":"#222","strokeWidth":1},"encoding":{"y":{"datum":0,"type":"quantitative","axis":{"orient":"right","values":[-0.5,0,0.5],"labels":false,"title":null}}}},
{"data":{"values":[{}]},"mark":{"type":"text","align":"left","baseline":"middle","fontSize":12,"color":"#000"},"encoding":{"x":{"datum":3.3,"type":"quantitative","axis":{"orient":"top","values":[20,40,60,80],"labels":false,"title":null}},"y":{"datum":0.84,"type":"quantitative","axis":null},"text":{"value":"D"}}}
],"resolve":{"axis":{"x":"independent","y":"independent"}}},
{"width":182,"height":134,"data":{"name":"E"},"layer":[
{"mark":{"type":"bar","color":"#ff2a2a","width":1.25,"xOffset":0.91},"encoding":{"x":{"field":"x","type":"quantitative","scale":{"domain":[0,100],"nice":false,"zero":false},"axis":{"orient":"bottom","values":[0,20,40,60,80],"labels":false,"title":null}},"y":{"field":"v","type":"quantitative","scale":{"domain":[-1,1],"nice":false},"axis":{"values":[-1,-0.5,0,0.5,1],"labels":false,"title":null}}}},
{"data":{"values":[{}]},"mark":{"type":"rule","color":"#222","strokeWidth":1},"encoding":{"y":{"datum":0,"type":"quantitative","axis":{"orient":"right","values":[-0.5,0,0.5],"labels":false,"title":null}}}},
{"data":{"values":[{}]},"mark":{"type":"text","align":"left","baseline":"middle","fontSize":12,"color":"#000"},"encoding":{"x":{"datum":3.3,"type":"quantitative","axis":{"orient":"top","values":[20,40,60,80],"labels":false,"title":null}},"y":{"datum":0.84,"type":"quantitative","axis":null},"text":{"value":"E"}}}
],"resolve":{"axis":{"x":"independent","y":"independent"}}},
{"width":182,"height":134,"data":{"name":"F"},"layer":[
{"mark":{"type":"bar","color":"#ff2a2a","width":1.25,"xOffset":0.91},"encoding":{"x":{"field":"x","type":"quantitative","scale":{"domain":[0,100],"nice":false,"zero":false},"axis":{"orient":"bottom","values":[0,20,40,60,80],"labels":false,"title":null}},"y":{"field":"v","type":"quantitative","scale":{"domain":[-1,1],"nice":false},"axis":{"values":[-1,-0.5,0,0.5,1],"labels":false,"title":null}}}},
{"data":{"values":[{}]},"mark":{"type":"rule","color":"#222","strokeWidth":1},"encoding":{"y":{"datum":0,"type":"quantitative","axis":{"orient":"right","values":[-0.5,0,0.5],"labels":false,"title":null}}}},
{"data":{"values":[{}]},"mark":{"type":"text","align":"left","baseline":"middle","fontSize":12,"color":"#000"},"encoding":{"x":{"datum":3.3,"type":"quantitative","axis":{"orient":"top","values":[20,40,60,80],"labels":false,"title":null}},"y":{"datum":0.84,"type":"quantitative","axis":null},"text":{"value":"F"}}}
],"resolve":{"axis":{"x":"independent","y":"independent"}}}
], "spacing": 18, "bounds": "flush"},
{"hconcat": [
{"width":182,"height":134,"data":{"name":"G"},"layer":[
{"mark":{"type":"bar","color":"#ff2a2a","width":1.25,"xOffset":0.91},"encoding":{"x":{"field":"x","type":"quantitative","scale":{"domain":[0,100],"nice":false,"zero":false},"axis":{"orient":"bottom","values":[0,20,40,60,80],"labels":false,"title":null}},"y":{"field":"v","type":"quantitative","scale":{"domain":[-1,1],"nice":false},"axis":{"values":[-1,-0.5,0,0.5,1],"labelExpr":"''+datum.value","title":"ε","titleAngle":0,"titleX":-10,"titleY":-3,"titleAlign":"center","titleBaseline":"middle","titleFontSize":10,"titleFontWeight":"bold"}}}},
{"data":{"values":[{}]},"mark":{"type":"rule","color":"#222","strokeWidth":1},"encoding":{"y":{"datum":0,"type":"quantitative","axis":{"orient":"right","values":[-0.5,0,0.5],"labels":false,"title":null}}}},
{"data":{"values":[{}]},"mark":{"type":"text","align":"left","baseline":"middle","fontSize":12,"color":"#000"},"encoding":{"x":{"datum":3.3,"type":"quantitative","axis":{"orient":"top","values":[20,40,60,80],"labels":false,"title":null}},"y":{"datum":0.84,"type":"quantitative","axis":null},"text":{"value":"G"}}}
],"resolve":{"axis":{"x":"independent","y":"independent"}}},
{"width":182,"height":134,"data":{"name":"H"},"layer":[
{"mark":{"type":"bar","color":"#ff2a2a","width":1.25,"xOffset":0.91},"encoding":{"x":{"field":"x","type":"quantitative","scale":{"domain":[0,100],"nice":false,"zero":false},"axis":{"orient":"bottom","values":[0,20,40,60,80],"labels":false,"title":null}},"y":{"field":"v","type":"quantitative","scale":{"domain":[-1,1],"nice":false},"axis":{"values":[-1,-0.5,0,0.5,1],"labels":false,"title":null}}}},
{"data":{"values":[{}]},"mark":{"type":"rule","color":"#222","strokeWidth":1},"encoding":{"y":{"datum":0,"type":"quantitative","axis":{"orient":"right","values":[-0.5,0,0.5],"labels":false,"title":null}}}},
{"data":{"values":[{}]},"mark":{"type":"text","align":"left","baseline":"middle","fontSize":12,"color":"#000"},"encoding":{"x":{"datum":3.3,"type":"quantitative","axis":{"orient":"top","values":[20,40,60,80],"labels":false,"title":null}},"y":{"datum":0.84,"type":"quantitative","axis":null},"text":{"value":"H"}}}
],"resolve":{"axis":{"x":"independent","y":"independent"}}},
{"width":182,"height":134,"data":{"name":"I"},"layer":[
{"mark":{"type":"bar","color":"#ff2a2a","width":1.25,"xOffset":0.91},"encoding":{"x":{"field":"x","type":"quantitative","scale":{"domain":[0,100],"nice":false,"zero":false},"axis":{"orient":"bottom","values":[0,20,40,60,80],"labels":false,"title":null}},"y":{"field":"v","type":"quantitative","scale":{"domain":[-1,1],"nice":false},"axis":{"values":[-1,-0.5,0,0.5,1],"labels":false,"title":null}}}},
{"data":{"values":[{}]},"mark":{"type":"rule","color":"#222","strokeWidth":1},"encoding":{"y":{"datum":0,"type":"quantitative","axis":{"orient":"right","values":[-0.5,0,0.5],"labels":false,"title":null}}}},
{"data":{"values":[{}]},"mark":{"type":"text","align":"left","baseline":"middle","fontSize":12,"color":"#000"},"encoding":{"x":{"datum":3.3,"type":"quantitative","axis":{"orient":"top","values":[20,40,60,80],"labels":false,"title":null}},"y":{"datum":0.84,"type":"quantitative","axis":null},"text":{"value":"I"}}}
],"resolve":{"axis":{"x":"independent","y":"independent"}}}
], "spacing": 18, "bounds": "flush"},
{"hconcat": [
{"width":182,"height":134,"data":{"name":"J"},"layer":[
{"mark":{"type":"bar","color":"#ff2a2a","width":1.25,"xOffset":0.91},"encoding":{"x":{"field":"x","type":"quantitative","scale":{"domain":[0,100],"nice":false,"zero":false},"axis":{"orient":"bottom","values":[0,20,40,60,80],"labelExpr":"''+datum.value","labelPadding":4,"title":"Pass counter","titleFontSize":11.5,"titleFontWeight":"normal","titlePadding":0}},"y":{"field":"v","type":"quantitative","scale":{"domain":[-1,1],"nice":false},"axis":{"values":[-1,-0.5,0,0.5,1],"labelExpr":"''+datum.value","title":"ε","titleAngle":0,"titleX":-10,"titleY":-3,"titleAlign":"center","titleBaseline":"middle","titleFontSize":10,"titleFontWeight":"bold"}}}},
{"data":{"values":[{}]},"mark":{"type":"rule","color":"#222","strokeWidth":1},"encoding":{"y":{"datum":0,"type":"quantitative","axis":{"orient":"right","values":[-0.5,0,0.5],"labels":false,"title":null}}}},
{"data":{"values":[{}]},"mark":{"type":"text","align":"left","baseline":"middle","fontSize":12,"color":"#000"},"encoding":{"x":{"datum":3.3,"type":"quantitative","axis":{"orient":"top","values":[20,40,60,80],"labels":false,"title":null}},"y":{"datum":0.84,"type":"quantitative","axis":null},"text":{"value":"J"}}}
],"resolve":{"axis":{"x":"independent","y":"independent"}}},
{"width":182,"height":134,"data":{"name":"K"},"layer":[
{"mark":{"type":"bar","color":"#ff2a2a","width":1.25,"xOffset":0.91},"encoding":{"x":{"field":"x","type":"quantitative","scale":{"domain":[0,100],"nice":false,"zero":false},"axis":{"orient":"bottom","values":[0,20,40,60,80],"labelExpr":"''+datum.value","labelPadding":4,"title":"Pass counter","titleFontSize":11.5,"titleFontWeight":"normal","titlePadding":0}},"y":{"field":"v","type":"quantitative","scale":{"domain":[-1,1],"nice":false},"axis":{"values":[-1,-0.5,0,0.5,1],"labels":false,"title":null}}}},
{"data":{"values":[{}]},"mark":{"type":"rule","color":"#222","strokeWidth":1},"encoding":{"y":{"datum":0,"type":"quantitative","axis":{"orient":"right","values":[-0.5,0,0.5],"labels":false,"title":null}}}},
{"data":{"values":[{}]},"mark":{"type":"text","align":"left","baseline":"middle","fontSize":12,"color":"#000"},"encoding":{"x":{"datum":3.3,"type":"quantitative","axis":{"orient":"top","values":[20,40,60,80],"labels":false,"title":null}},"y":{"datum":0.84,"type":"quantitative","axis":null},"text":{"value":"K"}}}
],"resolve":{"axis":{"x":"independent","y":"independent"}}},
{"width":182,"height":134,"data":{"name":"L"},"layer":[
{"mark":{"type":"bar","color":"#ff2a2a","width":1.25,"xOffset":0.91},"encoding":{"x":{"field":"x","type":"quantitative","scale":{"domain":[0,100],"nice":false,"zero":false},"axis":{"orient":"bottom","values":[0,20,40,60,80,100],"labelExpr":"''+datum.value","labelPadding":4,"title":"Pass counter","titleFontSize":11.5,"titleFontWeight":"normal","titlePadding":0}},"y":{"field":"v","type":"quantitative","scale":{"domain":[-1,1],"nice":false},"axis":{"values":[-1,-0.5,0,0.5,1],"labels":false,"title":null}}}},
{"data":{"values":[{}]},"mark":{"type":"rule","color":"#222","strokeWidth":1},"encoding":{"y":{"datum":0,"type":"quantitative","axis":{"orient":"right","values":[-0.5,0,0.5],"labels":false,"title":null}}}},
{"data":{"values":[{}]},"mark":{"type":"text","align":"left","baseline":"middle","fontSize":12,"color":"#000"},"encoding":{"x":{"datum":3.3,"type":"quantitative","axis":{"orient":"top","values":[20,40,60,80],"labels":false,"title":null}},"y":{"datum":0.84,"type":"quantitative","axis":null},"text":{"value":"L"}}}
],"resolve":{"axis":{"x":"independent","y":"independent"}}}
], "spacing": 18, "bounds": "flush"}
],
"config": {
"font": "Liberation Sans",
"view": {"stroke": "#333", "strokeWidth": 1},
"axis": {"domain": false, "grid": false, "tickSize": -3, "tickColor": "#444", "tickWidth": 0.8, "labelFontSize": 5.5, "labelColor": "#222", "labelPadding": 5, "labelFlush": false, "labelOverlap": false},
"title": {"fontSize": 11.5, "fontWeight": "normal", "color": "#000"}
}
}
